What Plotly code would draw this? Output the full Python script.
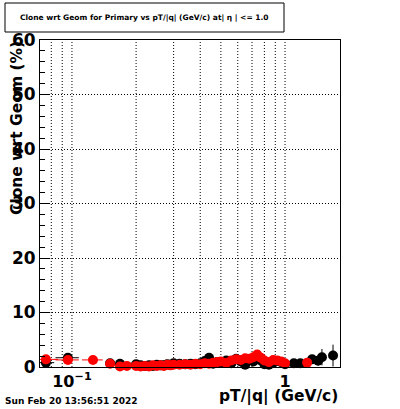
import plotly.graph_objects as go

# ---- data ----
black_x = [0.0755, 0.0957, 0.151, 0.168,
           0.20, 0.21, 0.22, 0.23, 0.24, 0.25, 0.26, 0.27, 0.28, 0.29, 0.30,
           0.32, 0.34, 0.36, 0.38, 0.40, 0.42, 0.44, 0.46, 0.48, 0.50,
           0.53, 0.56, 0.59, 0.62, 0.65, 0.68, 0.71, 0.74, 0.77, 0.80,
           0.84, 0.88, 0.92, 0.96, 1.00,
           1.10, 1.18, 1.34, 1.43, 1.49, 1.68]
black_y = [0.8, 1.7, 0.7, 0.6,
           0.5, 0.3, 0.2, 0.3, 0.2, 0.4, 0.3, 0.3, 0.5, 0.4, 0.7,
           0.6, 0.5, 0.6, 0.5, 0.7, 1.1, 1.7, 0.6, 0.9, 0.8,
           1.2, 0.7, 1.5, 1.0, 0.4, 1.3, 1.0, 1.6, 1.2, 0.5,
           0.4, 0.8, 1.1, 0.9, 0.5,
           0.7, 0.7, 1.4, 1.15, 1.8, 2.1]
black_ey = [0.5, 0.6, 0.4, 0.4,
            0.3, 0.2, 0.2, 0.2, 0.2, 0.2, 0.2, 0.2, 0.2, 0.2, 0.3,
            0.3, 0.3, 0.3, 0.3, 0.3, 0.3, 0.4, 0.3, 0.3, 0.3,
            0.3, 0.3, 0.4, 0.3, 0.3, 0.4, 0.4, 0.4, 0.4, 0.3,
            0.3, 0.4, 0.4, 0.4, 0.4,
            0.5, 0.5, 0.8, 0.9, 1.5, 2.0]
black_ex = [0.007, 0.012, 0.008, 0.008,
            0.005, 0.005, 0.005, 0.005, 0.005, 0.005, 0.005, 0.005, 0.005, 0.005, 0.005,
            0.01, 0.01, 0.01, 0.01, 0.01, 0.01, 0.01, 0.01, 0.01, 0.01,
            0.015, 0.015, 0.015, 0.015, 0.015, 0.015, 0.015, 0.015, 0.015, 0.015,
            0.02, 0.02, 0.02, 0.02, 0.02,
            0.04, 0.04, 0.04, 0.04, 0.04, 0.05]

red_x = [0.0755, 0.0957, 0.1255, 0.151, 0.168, 0.181,
         0.20, 0.21, 0.22, 0.23, 0.24, 0.25, 0.26, 0.27, 0.28, 0.29, 0.30,
         0.32, 0.34, 0.36, 0.38, 0.40, 0.42, 0.44, 0.46, 0.48, 0.50,
         0.53, 0.56, 0.59, 0.62, 0.65, 0.68, 0.71, 0.74, 0.77, 0.80,
         0.84, 0.88, 0.92, 0.96, 1.00,
         1.27]
red_y = [1.4, 1.3, 1.3, 0.6, 0.1, 0.2,
         0.2, 0.1, 0.2, 0.1, 0.3, 0.2, 0.3, 0.2, 0.4, 0.3, 0.4,
         0.4, 0.5, 0.4, 0.6, 0.5, 0.7, 0.6, 0.8, 0.9, 1.0,
         0.8, 1.2, 1.4, 1.3, 1.6, 1.5, 1.8, 2.3, 1.7, 1.2,
         0.9, 1.3, 1.2, 1.0, 0.7,
         0.8]
red_ey = [0.4, 0.4, 0.4, 0.3, 0.1, 0.2,
          0.2, 0.1, 0.2, 0.1, 0.2, 0.2, 0.2, 0.2, 0.2, 0.2, 0.2,
          0.2, 0.2, 0.2, 0.3, 0.3, 0.3, 0.3, 0.3, 0.3, 0.3,
          0.3, 0.3, 0.4, 0.3, 0.4, 0.4, 0.4, 0.5, 0.4, 0.3,
          0.3, 0.4, 0.4, 0.4, 0.3,
          0.5]
red_ex = [0.0105, 0.012, 0.014, 0.008, 0.007, 0.007,
          0.005, 0.005, 0.005, 0.005, 0.005, 0.005, 0.005, 0.005, 0.005, 0.005, 0.005,
          0.01, 0.01, 0.01, 0.01, 0.01, 0.01, 0.01, 0.01, 0.01, 0.01,
          0.015, 0.015, 0.015, 0.015, 0.015, 0.015, 0.015, 0.015, 0.015, 0.015,
          0.02, 0.02, 0.02, 0.02, 0.02,
          0.04]

y_ticks = [0, 10, 20, 30, 40, 50, 60]
x_tickvals = [0.1, 1]
x_ticktext = ["10<sup>\u22121</sup>", "1"]
x_grid = [0.08, 0.09, 0.1, 0.2, 0.3, 0.4, 0.5, 0.6, 0.7, 0.8, 0.9, 1.0]

title_text = "Clone wrt Geom for Primary vs pT/|q| (GeV/c) at| \u03b7 | <= 1.0"
date_text = "Sun Feb 20 13:56:51 2022"
x_title = "pT/|q| (GeV/c)"
y_title = "Clone wrt Geom (%)"

FONT = "DejaVu Sans"
DOT = "1px,2px"

fig = go.Figure()
for xs, ys, exs, eys, col in [(black_x, black_y, black_ex, black_ey, "black"),
                              (red_x, red_y, red_ex, red_ey, "red")]:
    fig.add_trace(go.Scatter(
        x=xs, y=ys, mode="markers",
        marker=dict(symbol="circle", size=10, color=col),
        error_y=dict(type="data", array=eys, color=col, thickness=1, width=0),
        error_x=dict(type="data", array=exs, color=col, thickness=1, width=0),
        showlegend=False, cliponaxis=False,
    ))

# vertical dotted grid lines at log positions
for gx in x_grid:
    fig.add_shape(type="line", xref="x", yref="paper", x0=gx, x1=gx, y0=0, y1=1,
                  line=dict(color="black", width=1, dash=DOT), layer="below")

fig.update_layout(
    width=400, height=409,
    margin=dict(l=40, r=60, t=40, b=42),
    paper_bgcolor="white", plot_bgcolor="white",
    font=dict(family=FONT, color="black"),
    xaxis=dict(type="log", range=[-1.15, 0.258], showgrid=False,
               tickvals=x_tickvals, ticktext=x_ticktext, ticks="",
               tickfont=dict(size=16, family=FONT, weight="bold"),
               showline=True, linecolor="black", linewidth=1, mirror=True,
               zeroline=False),
    yaxis=dict(range=[0, 60], tickvals=y_ticks, ticks="inside", ticklen=9,
               tickcolor="black",
               minor=dict(dtick=2, ticks="inside", ticklen=5, tickcolor="black"),
               showgrid=True, gridcolor="black", griddash=DOT, gridwidth=1,
               tickfont=dict(size=17, family=FONT, weight="bold"),
               ticklabelstandoff=0,
               showline=True, linecolor="black", linewidth=1, mirror=True,
               zeroline=False),
)

# title box
fig.add_shape(type="rect", xref="paper", yref="paper",
              x0=(5 - 40) / 300, x1=(284 - 40) / 300,
              y0=(367 - 32) / 327, y1=(367 - 3) / 327,
              line=dict(color="black", width=1), fillcolor="white")
fig.add_annotation(text=title_text, xref="paper", yref="paper",
                   x=(144 - 40) / 300, y=(367 - 17.5) / 327,
                   xanchor="center", yanchor="middle", showarrow=False,
                   font=dict(size=7.5, family=FONT, weight="bold"))
# axis titles
fig.add_annotation(text=x_title, xref="paper", yref="paper",
                   x=1.0, y=(367 - 396) / 327, xanchor="right", yanchor="middle",
                   showarrow=False, font=dict(size=15.5, family=FONT, weight="bold"))
fig.add_annotation(text=y_title, xref="paper", yref="paper",
                   x=(17 - 40) / 300, y=(367 - 128) / 327, xanchor="center", yanchor="middle",
                   textangle=-90, showarrow=False,
                   font=dict(size=15.5, family=FONT, weight="bold"))
# date
fig.add_annotation(text=date_text, xref="paper", yref="paper",
                   x=(3 - 40) / 300, y=(367 - 401) / 327, xanchor="left", yanchor="middle",
                   showarrow=False, font=dict(size=9, family=FONT, weight="bold"))

fig.write_html("out.html", config={"displayModeBar": False},
               post_script="document.body.style.margin='0';document.body.style.overflow='hidden';")
